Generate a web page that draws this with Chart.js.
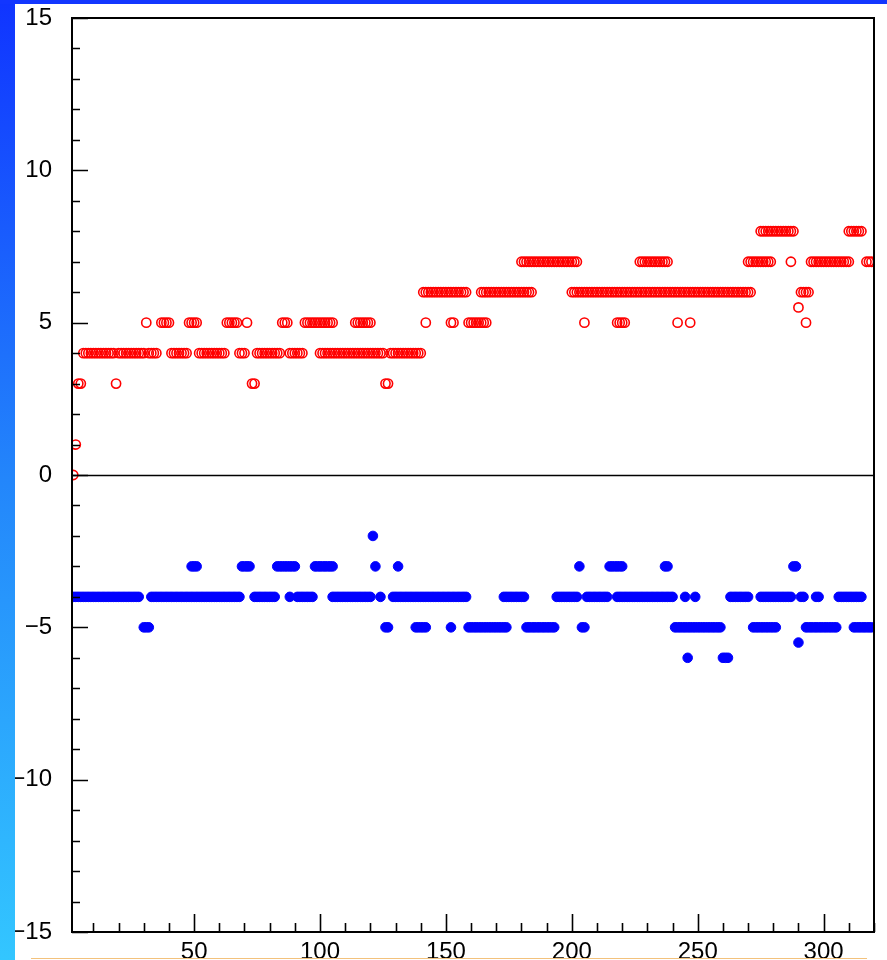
<!DOCTYPE html>
<html>
<head>
<meta charset="utf-8">
<script src="https://cdn.jsdelivr.net/npm/chart.js@4.4.0/dist/chart.umd.min.js"></script>
<style>
  html, body { margin: 0; padding: 0; width: 887px; height: 960px; overflow: hidden; }
  body { position: relative; background: #fff; }
  #panel { position: absolute; left: 0; top: 0; width: 887px; height: 960px; background: #fff; }
  #wrap { position: absolute; left: 0; top: 0; width: 887px; height: 1000px; }
  #left-strip { position: absolute; left: 0; top: 0; width: 15px; height: 960px;
    background: linear-gradient(to bottom, #1034ff 0%, #2386fb 50%, #33c6ff 100%); }
  #top-strip { position: absolute; left: 0; top: 0; width: 887px; height: 4px; background: #1236ff; }
  #rule { position: absolute; left: 31px; top: 958px; width: 836px; height: 1px; background: #f3c27c; }
</style>
</head>
<body>
<div id="panel"></div>
<div id="wrap"><canvas id="chart" width="887" height="1000"></canvas></div>
<div id="left-strip"></div>
<div id="top-strip"></div>
<div id="rule"></div>
<script>
// red series (open circles): x positions for each y level
let red0 = [2]
let red1 = [3]
let red3 = [4, 5, 19, 73, 74, 126, 127]
let red4 = [6,7,8,9,10,11,12,13,14,15,16,17,18,20,21,22,23,24,25,26,27,28,29,30,32,33,34,35,
  41,42,43,44,45,46,47,
  52,53,54,55,56,57,58,59,60,61,62,
  68,69,70,
  75,76,77,78,79,80,81,82,83,84,88,89,90,91,92,93,
  100,101,102,103,104,105,106,107,108,109,110,111,112,113,114,115,116,117,118,119,120,
  121,122,123,124,125,128,129,130,131,132,133,134,135,136,137,138,139,140]
let red5 = [31,37,38,39,40,48,49,50,51,63,64,65,66,67,71,85,86,87,
  94,95,96,97,98,99,100,101,102,103,104,105,114,115,116,117,118,119,120,
  142,152,153,159,160,161,162,163,164,165,166,205,218,219,220,221,242,247,293]
let red5h = [290]
let red6 = [141,142,143,144,145,146,147,148,149,150,151,152,153,154,155,156,157,158,
  164,165,166,167,168,169,170,171,172,173,174,175,176,177,178,179,180,181,182,183,184,
  200,201,202,203,204,205,206,207,208,209,210,211,212,213,214,215,216,217,218,219,220,
  221,222,223,224,225,226,227,228,229,230,231,232,233,234,235,236,237,238,239,240,241,
  242,243,244,245,246,247,248,249,250,251,252,253,254,255,256,257,258,259,260,261,262,
  263,264,265,266,267,268,269,270,271,
  291,292,293,294]
let red7 = [180,181,182,183,184,185,186,187,188,189,190,191,192,193,194,195,196,197,198,199,200,201,202,
  227,228,229,230,231,232,233,234,235,236,237,238,
  270,271,272,273,274,275,276,277,278,279,
  287,
  295,296,297,298,299,300,301,302,303,304,305,306,307,308,309,310,
  317,318,319]
let red8 = [275,276,277,278,279,280,281,282,283,284,285,286,287,288,
  310,311,312,313,314,315]

let redLevels = [0, 1, 3, 4, 5, 5.5, 6, 7, 8]
let redLists = [red0, red1, red3, red4, red5, red5h, red6, red7, red8]

// blue series (filled circles): x positions for each y level
let blue2 = [121]
let blue3 = [49,50,51,69,70,71,72,83,84,85,86,87,88,89,90,
  98,99,100,101,102,103,104,105,122,131,203,215,216,217,218,219,220,237,238,288,289]
let blue4 = [1,2,3,4,5,6,7,8,9,10,11,12,13,14,15,16,17,18,19,20,21,22,23,24,25,26,27,28,
  33,34,35,36,37,38,39,40,41,42,43,44,45,46,47,48,49,50,51,52,53,54,55,56,57,58,59,60,
  61,62,63,64,65,66,67,68,
  74,75,76,77,78,79,80,81,82,
  88,
  91,92,93,94,95,96,97,
  105,106,107,108,109,110,111,112,113,114,115,116,117,118,119,120,
  124,
  129,130,131,132,133,134,135,136,137,138,139,140,141,142,143,144,145,146,147,148,149,
  150,151,152,153,154,155,156,157,158,
  173,174,175,176,177,178,179,180,181,
  194,195,196,197,198,199,200,201,202,
  206,207,208,209,210,211,212,213,214,
  218,219,220,221,222,223,224,225,226,227,228,229,230,231,232,233,234,235,236,237,238,239,240,
  245,249,
  263,264,265,266,267,268,269,270,
  275,276,277,278,279,280,281,282,283,284,285,286,287,
  291,292,297,298,
  306,307,308,309,310,311,312,313,314,315]
let blue5 = [30,31,32,126,127,138,139,140,141,142,152,
  159,160,161,162,163,164,165,166,167,168,169,170,171,172,173,174,
  182,183,184,185,186,187,188,189,190,191,192,193,
  204,205,
  241,242,243,244,245,246,247,248,249,250,251,252,253,254,255,256,257,258,259,
  272,273,274,275,276,277,278,279,280,281,
  293,294,295,296,297,298,299,300,301,302,303,304,305,
  312,313,314,315,316,317,318,319]
let blue5h = [290]
let blue6 = [246,260,261,262]

let blueLevels = [-2, -3, -4, -5, -5.5, -6]
let blueLists = [blue2, blue3, blue4, blue5, blue5h, blue6]

let x_ticks = { min: 1.5, max: 320, step: 10, labelEvery: 50 }
let y_ticks = { min: -15, max: 15, step: 1, labelEvery: 5 }

let to_points = (lists, levels) => {
  let out = []
  lists.forEach((xs, i) => xs.forEach(x => out.push({ x: x, y: levels[i] })))
  return out
}

let tick_font = { family: "'Liberation Sans', Arial, sans-serif", size: 24 }

// inward tick marks, frame and zero line, the way the original plot has them
let frame_plugin = {
  id: 'frame',
  afterDraw(chart) {
    let ctx = chart.ctx
    let a = chart.chartArea
    let xs = chart.scales.x
    let ys = chart.scales.y
    ctx.save()
    ctx.strokeStyle = '#000'
    ctx.lineWidth = 1.6
    ctx.beginPath()
    ys.ticks.forEach(t => {
      let py = Math.round(ys.getPixelForValue(t.value)) + 0.5
      let len = t.value % y_ticks.labelEvery === 0 ? 16 : 8
      ctx.moveTo(a.left, py)
      ctx.lineTo(a.left + len, py)
    })
    xs.ticks.forEach(t => {
      let px = Math.round(xs.getPixelForValue(t.value)) + 0.5
      let len = t.value % x_ticks.labelEvery === 0 ? 18 : 9
      ctx.moveTo(px, a.bottom)
      ctx.lineTo(px, a.bottom - len)
    })
    ctx.stroke()
    let zy = Math.round(ys.getPixelForValue(0)) + 0.5
    ctx.lineWidth = 1.5
    ctx.beginPath()
    ctx.moveTo(a.left, zy)
    ctx.lineTo(a.right, zy)
    ctx.stroke()
    ctx.lineWidth = 2
    ctx.strokeRect(a.left, a.top, a.right - a.left, a.bottom - a.top)
    ctx.restore()
  }
}

let config = {
  type: 'scatter',
  data: {
    datasets: [{
      label: 'red',
      data: to_points(redLists, redLevels),
      pointStyle: 'circle',
      pointRadius: 4.6,
      pointBorderWidth: 1.6,
      pointBorderColor: '#ff0000',
      pointBackgroundColor: 'rgba(0,0,0,0)',
      showLine: false
    }, {
      label: 'blue',
      data: to_points(blueLists, blueLevels),
      pointStyle: 'circle',
      pointRadius: 4.8,
      pointBorderWidth: 1,
      pointBorderColor: '#0000ff',
      pointBackgroundColor: '#0000ff',
      showLine: false
    }]
  },
  options: {
    responsive: false,
    animation: false,
    devicePixelRatio: 1,
    layout: { padding: { left: 12, top: 18, right: 13, bottom: 28 } },
    plugins: { legend: { display: false }, tooltip: { enabled: false } },
    elements: { point: { hoverRadius: 4.8 } },
    scales: {
      x: {
        type: 'linear',
        min: x_ticks.min,
        max: x_ticks.max,
        afterFit: scale => {
          scale.height = 40
          scale.paddingLeft = 0
          scale.paddingRight = 0
        },
        grid: { display: false, drawTicks: false },
        border: { display: false },
        ticks: {
          stepSize: x_ticks.step,
          includeBounds: false,
          autoSkip: false,
          maxRotation: 0,
          padding: 6,
          color: '#000',
          font: tick_font,
          callback: v => v % x_ticks.labelEvery === 0 ? String(v) : ''
        }
      },
      y: {
        type: 'linear',
        min: y_ticks.min,
        max: y_ticks.max,
        afterFit: scale => {
          scale.width = 60
          scale.paddingTop = 0
          scale.paddingBottom = 0
        },
        grid: { display: false, drawTicks: false },
        border: { display: false },
        ticks: {
          stepSize: y_ticks.step,
          autoSkip: false,
          padding: 20,
          color: '#000',
          font: tick_font,
          callback: v => v % y_ticks.labelEvery === 0 ? String(v).replace('-', '\u2212') : ''
        }
      }
    }
  },
  plugins: [frame_plugin]
}
new Chart(document.getElementById('chart'), config)
</script>
</body>
</html>
